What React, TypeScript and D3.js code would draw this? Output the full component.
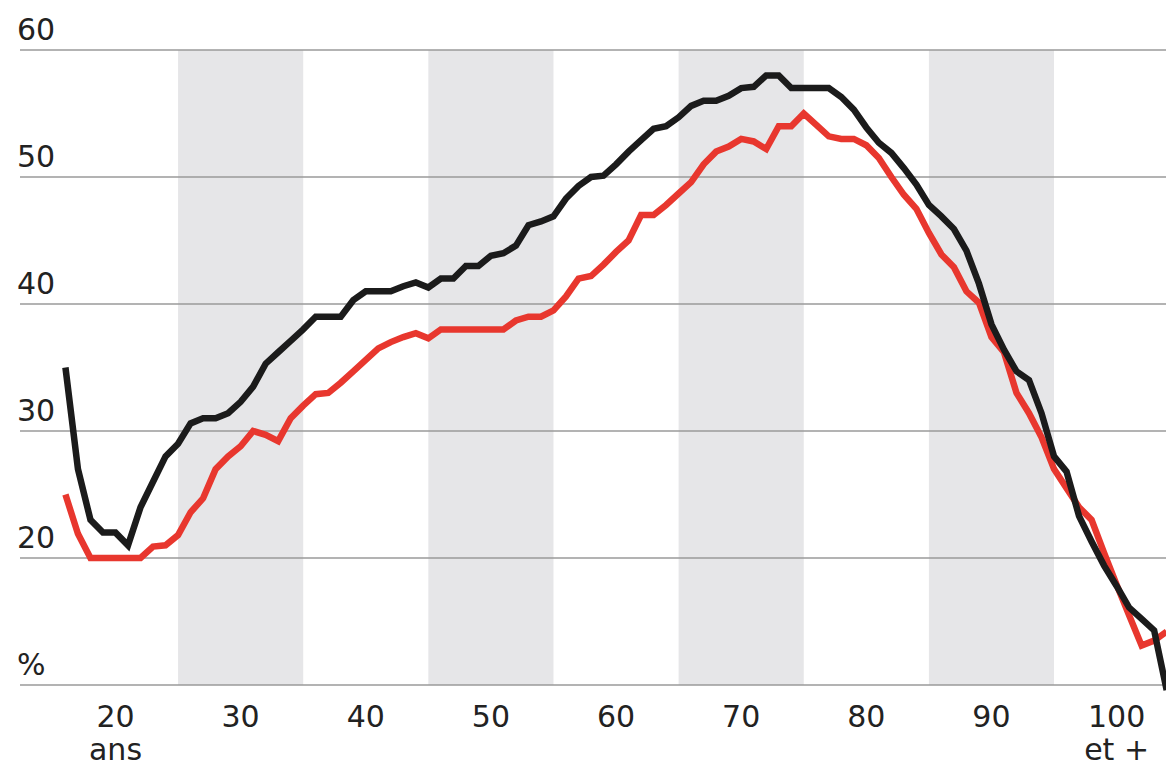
import React from "react";
import * as d3 from "d3";

// ages 16 .. 104 (one point per year of age)
const ages = d3.range(16, 105);

const blackValues = [
  35, 27, 23, 22, 22, 21, 24, 26, 28, 29, 30.6, 31, 31, 31.4, 32.3, 33.5, 35.3, 36.2, 37.1, 38,
  39, 39, 39, 40.3, 41, 41, 41, 41.4, 41.7, 41.3, 42, 42, 43, 43, 43.8, 44, 44.6, 46.2, 46.5, 46.9,
  48.3, 49.3, 50, 50.1, 51, 52, 52.9, 53.8, 54, 54.7, 55.6, 56, 56, 56.4, 57, 57.1, 58, 58, 57, 57,
  57, 57, 56.3, 55.3, 53.9, 52.7, 51.9, 50.7, 49.4, 47.8, 46.9, 45.9, 44.2, 41.6, 38.4, 36.4, 34.7, 34, 31.4, 28,
  26.8, 23.3, 21.3, 19.4, 17.8, 16.1, 15.2, 14.3, 9.6,
];

const redValues = [
  25, 21.9, 20, 20, 20, 20, 20, 20.9, 21, 21.8, 23.6, 24.7, 27, 28, 28.8, 30, 29.7, 29.2, 31, 32,
  32.9, 33, 33.8, 34.7, 35.6, 36.5, 37, 37.4, 37.7, 37.3, 38, 38, 38, 38, 38, 38, 38.7, 39, 39, 39.5,
  40.6, 42, 42.2, 43.1, 44.1, 45, 47, 47, 47.8, 48.7, 49.6, 51, 52, 52.4, 53, 52.8, 52.2, 54, 54, 55,
  54.1, 53.2, 53, 53, 52.5, 51.5, 50, 48.6, 47.5, 45.6, 43.9, 42.9, 41, 40.1, 37.4, 36.2, 33, 31.4, 29.5, 27,
  25.5, 24, 23, 20.4, 17.9, 15.5, 13.1, 13.5, 14.2,
];

const yTicks = [10, 20, 30, 40, 50, 60];
const yLabels = ["%", "20", "30", "40", "50", "60"];
const xTicks = [20, 30, 40, 50, 60, 70, 80, 90, 100];
const xSubLabels: Record<number, string> = { 20: "ans", 100: "et +" };
const bands = [
  [25, 35],
  [45, 55],
  [65, 75],
  [85, 95],
];

const W = 1166;
const H = 768;
const FONT = "'DejaVu Sans', sans-serif";

export default function App() {
  const x = d3.scaleLinear().domain([20, 100]).range([115.5, 1116.6]);
  const y = d3.scaleLinear().domain([10, 60]).range([685, 50]);

  const line = d3
    .line<number>()
    .x((d, i) => x(ages[i]))
    .y((d) => y(d));

  return (
    <svg width={W} height={H} style={{ position: "absolute", left: 0, top: 0, background: "#fff" }}>
      {/* shaded decades */}
      {bands.map(([a, b]) => (
        <rect key={a} x={x(a)} y={y(60)} width={x(b) - x(a)} height={y(10) - y(60)} fill="#e6e6e8" />
      ))}

      {/* grid + y labels */}
      {yTicks.map((t, i) => (
        <g key={t}>
          <line x1={20} x2={W} y1={y(t)} y2={y(t)} stroke="#9a9a9a" strokeWidth={1.6} />
          <text x={17} y={y(t) - 10} fontFamily={FONT} fontSize={30} fill="#222">
            {yLabels[i]}
          </text>
        </g>
      ))}

      {/* x labels */}
      {xTicks.map((t) => (
        <g key={t}>
          <text x={x(t)} y={727} textAnchor="middle" fontFamily={FONT} fontSize={30} fill="#222">
            {t}
          </text>
          {xSubLabels[t] && (
            <text x={x(t)} y={760} textAnchor="middle" fontFamily={FONT} fontSize={30} fill="#222">
              {xSubLabels[t]}
            </text>
          )}
        </g>
      ))}

      <path d={line(redValues) || ""} fill="none" stroke="#e8372e" strokeWidth={6.5} strokeLinejoin="miter" />
      <path d={line(blackValues) || ""} fill="none" stroke="#1b1b1b" strokeWidth={6.5} strokeLinejoin="miter" />
    </svg>
  );
}
